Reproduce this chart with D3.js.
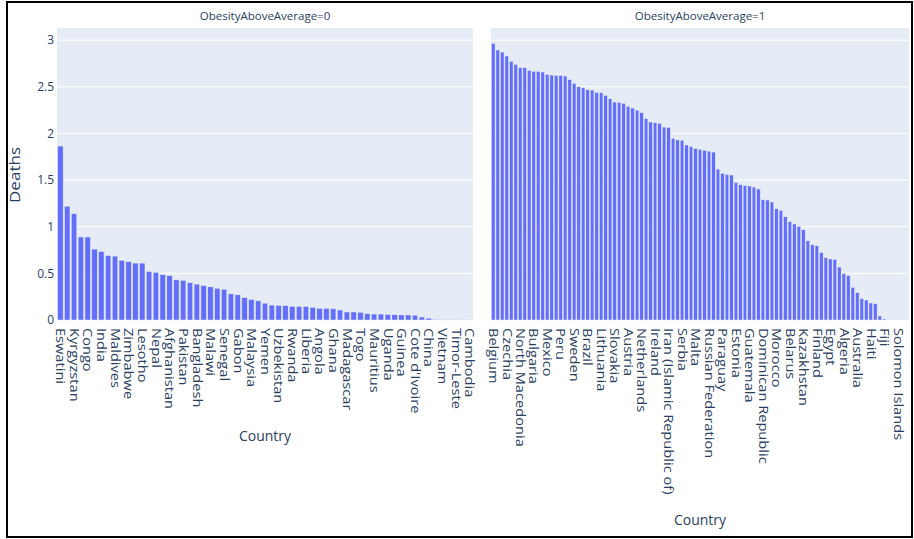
<!DOCTYPE html>
<html>
<head>
<meta charset="utf-8">
<script src="https://cdn.jsdelivr.net/npm/d3@7"></script>
<style>
  body { margin: 0; background: #fff; }
  svg { display: block; }
  text { font-family: "Open Sans", "Noto Sans", sans-serif; fill: #2a3f5f; }
</style>
</head>
<body>
<svg id="chart" width="914" height="539"></svg>
<script>
// Countries in each facet, sorted by deaths (descending)
const leftCountries = [
  "Eswatini", "Papua New Guinea", "Kyrgyzstan", "Mongolia", "Congo", "Sri Lanka", "India", "Myanmar",
  "Maldives", "Mozambique", "Zimbabwe", "Zambia", "Lesotho", "Tajikistan", "Nepal", "Nigeria",
  "Afghanistan", "Sierra Leone", "Pakistan", "Cameroon", "Bangladesh", "Kenya", "Malawi", "Mali",
  "Senegal", "Burkina Faso", "Gabon", "Benin", "Malaysia", "Indonesia", "Yemen", "Philippines",
  "Uzbekistan", "Chad", "Rwanda", "Niger", "Liberia", "Ethiopia", "Angola", "Burundi",
  "Ghana", "Eritrea", "Madagascar", "Botswana", "Togo", "Namibia", "Mauritius", "Tanzania",
  "Uganda", "Gambia", "Guinea", "Bhutan", "Cote d'Ivoire", "Japan", "China", "Thailand",
  "Vietnam", "Singapore", "Timor-Leste", "Republic of Korea", "Cambodia"
];
const leftDeaths = [
  1.865, 1.22, 1.14, 0.89, 0.89, 0.76, 0.735, 0.69,
  0.685, 0.64, 0.625, 0.61, 0.61, 0.52, 0.51, 0.485,
  0.475, 0.43, 0.425, 0.40, 0.385, 0.37, 0.355, 0.34,
  0.33, 0.28, 0.27, 0.24, 0.22, 0.205, 0.18, 0.16,
  0.157, 0.155, 0.147, 0.145, 0.145, 0.136, 0.125, 0.125,
  0.12, 0.107, 0.086, 0.086, 0.083, 0.068, 0.064, 0.064,
  0.06, 0.057, 0.054, 0.054, 0.052, 0.032, 0.02, 0.007,
  0.004, 0.003, 0.002, 0.001, 0.001
];

const rightCountries = [
  "Belgium", "Hungary", "Romania", "Czechia", "Croatia", "Latvia", "North Macedonia", "Ukraine",
  "Poland", "Bulgaria", "Montenegro", "Bosnia and Herzegovina", "Mexico", "Greece", "Germany", "Peru",
  "Italy", "Portugal", "Sweden", "Slovenia", "Georgia", "Brazil", "Armenia", "Azerbaijan",
  "Lithuania", "Colombia", "Chile", "Slovakia", "Argentina", "Uruguay", "Austria", "Ecuador",
  "Bolivia", "Netherlands", "Venezuela", "Costa Rica", "Ireland", "Panama", "Honduras", "Iran (Islamic Republic of)",
  "El Salvador", "Nicaragua", "Serbia", "Cuba", "Jamaica", "Malta", "Trinidad and Tobago", "Belize",
  "Russian Federation", "Guyana", "Suriname", "Paraguay", "Bahamas", "Barbados", "Estonia", "Saudi Arabia",
  "Kuwait", "Guatemala", "Qatar", "United Arab Emirates", "Dominican Republic", "Bahrain", "Oman", "Morocco",
  "Jordan", "Lebanon", "Belarus", "Syrian Arab Republic", "Iraq", "Kazakhstan", "Turkey", "Tunisia",
  "Finland", "Libya", "Israel", "Egypt", "Cyprus", "Luxembourg", "Algeria", "Denmark",
  "Norway", "Australia", "Iceland", "France", "Haiti", "Spain", "Switzerland", "Fiji",
  "United Kingdom", "Canada", "Solomon Islands", "United States of America", "New Zealand"
];
const rightDeaths = [
  2.966, 2.894, 2.872, 2.83, 2.773, 2.74, 2.705, 2.705,
  2.676, 2.666, 2.666, 2.658, 2.633, 2.626, 2.622, 2.62,
  2.615, 2.576, 2.537, 2.50, 2.49, 2.468, 2.465, 2.44,
  2.437, 2.408, 2.372, 2.336, 2.333, 2.322, 2.29, 2.272,
  2.25, 2.222, 2.16, 2.122, 2.115, 2.108, 2.068, 2.065,
  1.947, 1.93, 1.928, 1.876, 1.86, 1.84, 1.83, 1.82,
  1.81, 1.80, 1.618, 1.572, 1.561, 1.554, 1.475, 1.45,
  1.44, 1.436, 1.425, 1.404, 1.29, 1.286, 1.265, 1.193,
  1.175, 1.107, 1.054, 1.029, 1.004, 0.968, 0.85, 0.807,
  0.796, 0.722, 0.668, 0.654, 0.65, 0.568, 0.496, 0.475,
  0.35, 0.293, 0.229, 0.214, 0.182, 0.175, 0.043, 0.011,
  0.003, 0, 0, 0, 0
];

const facetTitles = ["ObesityAboveAverage=0", "ObesityAboveAverage=1"];
const yTicks = [0, 0.5, 1, 1.5, 2, 2.5, 3];
const yTickLabels = ["0", "0.5", "1", "1.5", "2", "2.5", "3"];
const yTitle = "Deaths";
const xTitle = "Country";

const svg = d3.select("#chart");
const plotTop = 28, plotBottom = 320;
const y = d3.scaleLinear().domain([0, 3.13]).range([plotBottom, plotTop]);

const panels = [
  { countries: leftCountries, deaths: leftDeaths, x0: 57, x1: 473, step: 2, title: facetTitles[0], xTitleY: 441 },
  { countries: rightCountries, deaths: rightDeaths, x0: 491, x1: 909, step: 3, title: facetTitles[1], xTitleY: 525 }
];

panels.forEach((p, pi) => {
  const x = d3.scaleBand()
    .domain(p.countries)
    .range([p.x0, p.x1])
    .paddingInner(0.2)
    .paddingOuter(0.1);

  const g = svg.append("g");

  // plot background
  g.append("rect")
    .attr("x", p.x0).attr("y", plotTop)
    .attr("width", p.x1 - p.x0).attr("height", plotBottom - plotTop)
    .attr("fill", "#E5ECF6");

  // horizontal grid
  g.selectAll("line.grid")
    .data(yTicks.filter(d => d > 0))
    .join("line")
    .attr("class", "grid")
    .attr("x1", p.x0).attr("x2", p.x1)
    .attr("y1", d => y(d)).attr("y2", d => y(d))
    .attr("stroke", "#fff").attr("stroke-width", 1);

  // bars
  g.selectAll("rect.bar")
    .data(p.countries.map((c, i) => ({ c, v: p.deaths[i] })))
    .join("rect")
    .attr("class", "bar")
    .attr("x", d => x(d.c))
    .attr("y", d => y(d.v))
    .attr("width", x.bandwidth())
    .attr("height", d => plotBottom - y(d.v))
    .attr("fill", "#636EFA")
    .attr("stroke", "#E5ECF6")
    .attr("stroke-width", 0.5);

  // category axis, labelling every n-th country
  const xAxis = d3.axisBottom(x)
    .tickValues(p.countries.filter((d, i) => i % p.step === 0))
    .tickSize(0);
  const ax = g.append("g")
    .attr("transform", `translate(0,${plotBottom})`)
    .call(xAxis);
  ax.select(".domain").remove();
  ax.selectAll("text")
    .attr("x", 6.5).attr("y", 0).attr("dy", "0.35em")
    .attr("transform", "rotate(90) scale(1.22,1)")
    .style("text-anchor", "start")
    .style("font-size", "12px")
    .style("fill", "#2a3f5f");

  // facet title
  svg.append("text")
    .attr("x", (p.x0 + p.x1) / 2).attr("y", 20)
    .attr("text-anchor", "middle")
    .style("font-size", "11.5px")
    .text(p.title);

  // x axis title
  svg.append("text")
    .attr("x", (p.x0 + p.x1) / 2).attr("y", p.xTitleY)
    .attr("text-anchor", "middle")
    .style("font-size", "14px")
    .text(xTitle);

  if (pi === 0) {
    const yAxis = d3.axisLeft(y)
      .tickValues(yTicks)
      .tickFormat((d, i) => yTickLabels[i])
      .tickSize(0)
      .tickPadding(3);
    const ay = svg.append("g")
      .attr("transform", `translate(${p.x0},0)`)
      .call(yAxis);
    ay.select(".domain").remove();
    ay.selectAll("text")
      .style("font-size", "12px")
      .style("font-family", "'Open Sans', sans-serif")
      .style("fill", "#2a3f5f");
  }
});

// y axis title
svg.append("text")
  .attr("transform", "translate(20,175) rotate(-90) scale(1.22,1)")
  .attr("text-anchor", "middle")
  .style("font-size", "14px")
  .text(yTitle);

// outer frame
svg.append("rect")
  .attr("x", 7).attr("y", 2)
  .attr("width", 905).attr("height", 535)
  .attr("fill", "none")
  .attr("stroke", "#000")
  .attr("stroke-width", 2);
</script>
</body>
</html>
